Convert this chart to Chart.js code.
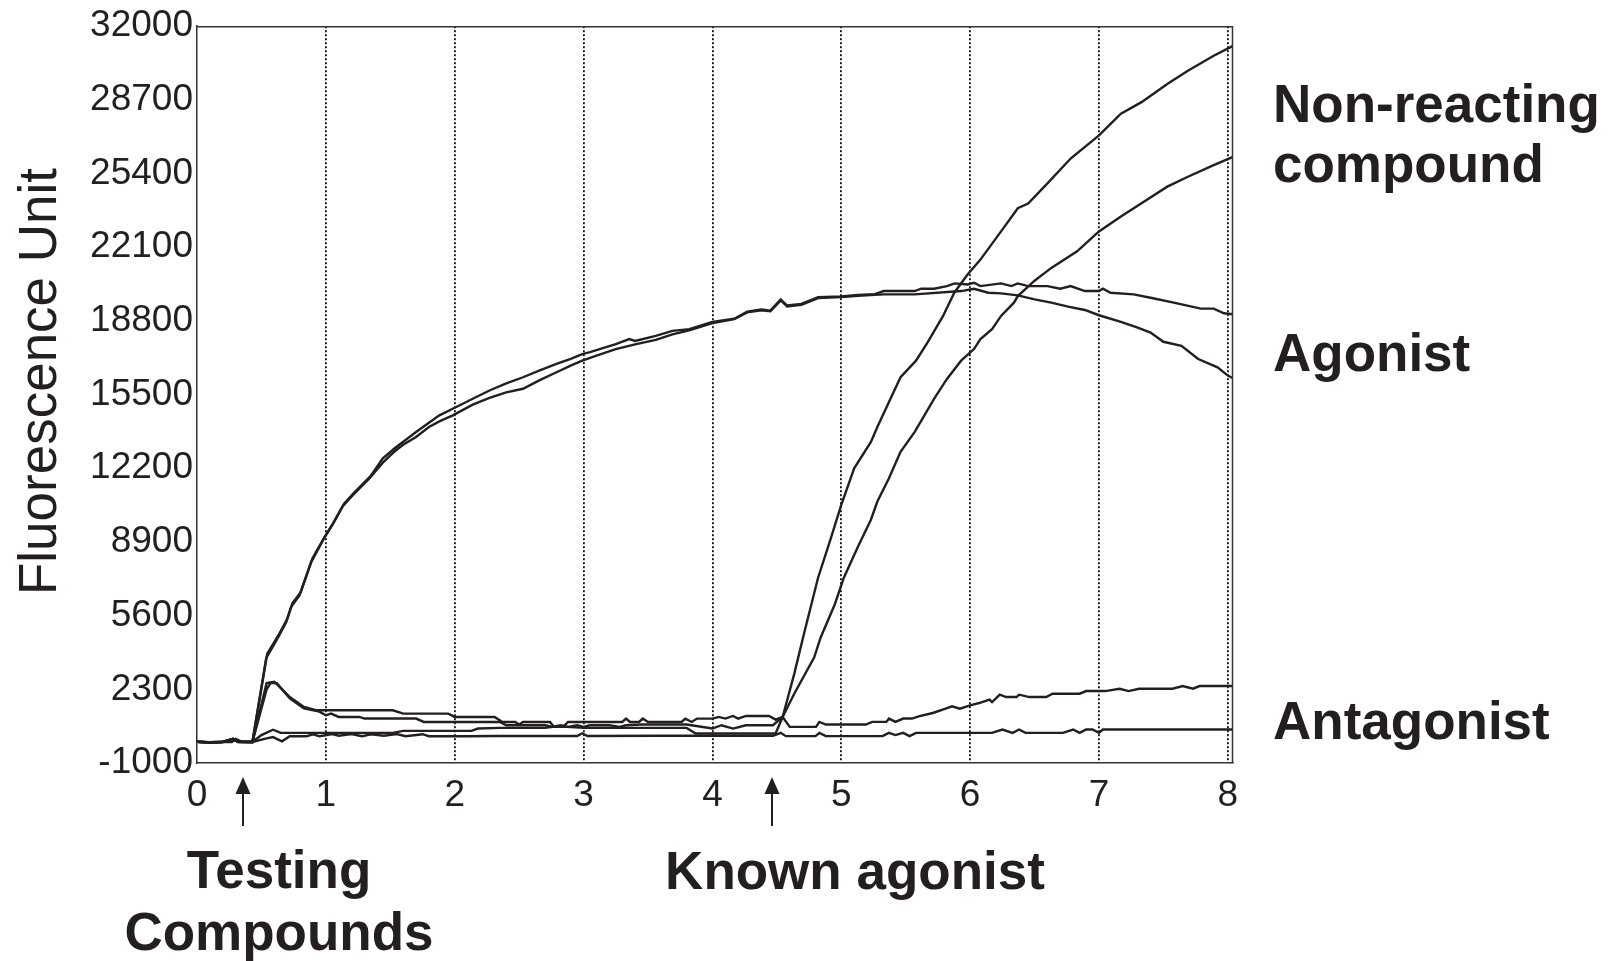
<!DOCTYPE html>
<html>
<head>
<meta charset="utf-8">
<script src="https://cdn.jsdelivr.net/npm/chart.js@4.4.1/dist/chart.umd.min.js"></script>
<style>
html,body{margin:0;padding:0;background:#ffffff;overflow:hidden;}
#wrap{width:1614px;height:961px;position:relative;}
canvas{display:block;}
</style>
</head>
<body>
<div id="wrap"><canvas id="c" width="1614" height="961"></canvas></div>
<script>
// ---------- tick labels ----------
const xTickLabels = ['0','1','2','3','4','5','6','7','8'];
const yTickLabels = ['-1000','2300','5600','8900','12200','15500','18800','22100','25400','28700','32000'];

// ---------- event markers (time of additions) ----------
const markerTimes = [0.36, 4.465];
const markerLabels = [['Testing','Compounds'], ['Known agonist']];

// ---------- curve labels ----------
const curveLabels = [['Non-reacting','compound'], ['Agonist'], ['Antagonist']];
const yTitle = 'Fluorescence Unit';

// ---------- series: agonist (two wells) ----------
const agonistA_t = [0,0.1,0.2,0.28,0.32,0.43,0.537,0.627,0.692,0.731,0.795,0.886,0.924,0.989,1.054,1.131,1.209,1.338,1.442,1.532,1.6,1.7,1.8,1.881,1.985,2.14,2.27,2.4,2.53,2.66,2.79,2.9,2.99,3.1,3.25,3.4,3.56,3.69,3.82,4.0,4.17,4.27,4.38,4.45,4.53,4.58,4.69,4.82,5.0,5.13,5.26,5.33,5.57,5.93,6.03,6.14,6.24,6.37,6.5,6.63,6.76,6.89,7.0,7.17,7.3,7.4,7.5,7.64,7.77,7.92,8.0,8.04];
const agonistA_v = [-50,-80,-60,60,-50,-60,3700,4600,5300,6000,6500,8000,8400,9100,9700,10500,11000,11750,12450,12950,13250,13600,14050,14300,14570,15050,15350,15600,15760,16150,16500,16800,17020,17250,17540,17750,17950,18200,18380,18700,18876,19180,19270,19230,19720,19450,19520,19820,19870,19930,19970,19990,19990,20137,20242,20063,20034,19945,19766,19618,19440,19291,19054,18757,18500,18281,17866,17687,17094,16723,16352,16233];

const agonistB_t = [0,0.1,0.2,0.28,0.32,0.43,0.545,0.635,0.7,0.74,0.805,0.895,0.933,0.998,1.063,1.14,1.218,1.347,1.442,1.532,1.7,1.881,1.985,2.14,2.27,2.4,2.53,2.66,2.79,2.9,2.99,3.05,3.25,3.355,3.4,3.56,3.69,3.82,4.0,4.17,4.27,4.38,4.45,4.53,4.58,4.69,4.82,5.0,5.13,5.26,5.33,5.57,5.62,5.72,5.82,5.88,5.98,6.03,6.08,6.24,6.32,6.37,6.45,6.6,6.7,6.78,6.89,7.0,7.03,7.09,7.27,7.4,7.58,7.79,7.89,7.97,8.04];
const agonistB_v = [-50,-70,-50,80,-60,-60,3900,4750,5450,6150,6650,8150,8550,9200,9800,10600,11100,11850,12641,13086,13828,14570,14867,15313,15684,16000,16277,16580,16871,17100,17317,17400,17762,17985,17900,18133,18356,18430,18750,18900,19220,19310,19260,19760,19490,19560,19860,19900,19960,20000,20137,20137,20242,20242,20360,20480,20434,20509,20360,20480,20360,20480,20360,20360,20242,20360,20137,20137,20242,20063,19989,19840,19618,19351,19351,19143,19098];

// ---------- series: non-reacting compound (two wells) ----------
const nonReactA_t = [0,0.1,0.2,0.28,0.32,0.43,0.54,0.57,0.62,0.72,0.83,0.95,1.0,1.04,1.1,1.26,1.3,1.7,1.76,2.35,2.4,2.7,2.76,2.82,2.88,2.95,3.0,3.05,3.2,3.28,3.33,3.45,3.8,4.0,4.07,4.16,4.26,4.47,4.545,4.635,4.71,4.82,4.92,5.0,5.1,5.23,5.28,5.37,5.46,5.58,5.67,5.79,5.877,5.98,6.08,6.24,6.37,6.45,6.6,6.78,7.0,7.17,7.33,7.53,7.69,7.89,8.04];
const nonReactA_v = [-50,-70,-50,60,-60,-60,2300,2576,2576,1900,1450,1300,1137,1213,1063,1063,990,990,839,839,692,692,617,692,617,692,617,692,692,617,692,721,721,543,692,543,692,692,1063,2993,4774,7297,9078,10563,12196,13383,14051,15164,16277,17020,17836,19023,20063,20880,21547,22809,23848,24060,24961,26074,27113,28078,28598,29414,30008,30676,31121];

const nonReactB_t = [0,0.1,0.2,0.28,0.32,0.43,0.5,0.59,0.65,1.52,1.6,2.13,2.18,2.35,2.7,2.76,2.87,3.0,3.8,3.87,4.49,4.545,4.635,4.79,4.84,4.95,5.02,5.13,5.23,5.28,5.37,5.46,5.57,5.72,5.82,5.93,6.03,6.08,6.17,6.24,6.34,6.37,6.5,6.63,6.83,7.0,7.17,7.33,7.53,7.69,7.89,8.04];
const nonReactB_v = [-50,-80,-60,80,-50,-60,250,490,350,350,439,439,545,573,573,617,617,573,573,321,321,1063,2102,3735,4625,6110,7300,8700,9895,10711,11750,12938,13828,15313,16203,17020,17539,17984,18430,19023,19617,19914,20600,21176,21918,22809,23477,24071,24813,25258,25778,26149];

// ---------- series: antagonist (two wells) ----------
const antagA_t = [0,0.1,0.2,0.28,0.32,0.43,0.54,0.6,0.72,0.83,0.93,1.52,1.6,1.95,2.0,2.31,2.37,2.47,2.5,2.53,2.74,2.77,2.84,2.88,3.3,3.33,3.36,3.43,3.46,3.5,3.76,3.79,3.84,3.88,4.0,4.05,4.1,4.16,4.2,4.26,4.44,4.49,4.545,4.6,4.804,4.83,4.88,5.19,5.24,5.35,5.37,5.42,5.48,5.55,5.6,5.71,5.81,5.86,5.92,6.0,6.07,6.15,6.17,6.23,6.28,6.36,6.38,6.46,6.59,6.64,6.85,6.9,7.05,7.16,7.23,7.31,7.57,7.65,7.73,7.78,8.04];
const antagA_v = [-50,-80,-60,80,-50,-60,2576,2640,1952,1507,1360,1360,1213,1213,1063,1063,839,839,722,839,839,618,618,839,839,989,839,839,989,839,839,989,839,989,989,1063,989,1107,989,1107,1107,944,1063,616,616,840,723,723,841,841,990,841,990,990,1090,1240,1434,1537,1434,1582,1686,1836,1730,2059,1954,1954,2059,1954,1954,2104,2104,2222,2222,2327,2222,2327,2327,2446,2327,2446,2446];

const antagB_t = [0,0.1,0.2,0.27,0.3,0.35,0.43,0.54,0.59,0.66,0.72,0.85,0.9,0.95,1.05,1.1,1.2,1.28,1.35,1.45,1.55,1.62,1.75,1.8,2.1,2.3,2.95,2.99,3.03,3.6,4.47,4.53,4.57,4.8,4.83,4.88,5.32,5.37,5.42,5.48,5.53,5.58,6.17,6.25,6.33,6.38,6.43,6.72,6.8,6.85,6.9,6.95,7.0,7.03,8.04];
const antagB_v = [-50,-80,-60,-60,80,-50,-60,100,160,-30,200,200,280,200,300,220,300,200,280,220,300,200,290,200,200,210,210,330,210,220,220,350,202,202,350,202,202,350,250,350,202,350,350,500,350,500,350,350,500,350,500,500,350,500,500];

// ---------- build chart ----------
function pts(t, v) {
  const n = Math.min(t.length, v.length);
  const out = [];
  for (let i = 0; i < n; i++) out.push({x: t[i], y: v[i]});
  return out;
}
const LINE = '#231f20';
const seriesList = [
  ['Agonist 1', agonistA_t, agonistA_v],
  ['Agonist 2', agonistB_t, agonistB_v],
  ['Non-reacting 1', nonReactA_t, nonReactA_v],
  ['Non-reacting 2', nonReactB_t, nonReactB_v],
  ['Antagonist 1', antagA_t, antagA_v],
  ['Antagonist 2', antagB_t, antagB_v]
];
const datasets = seriesList.map(s => ({
  label: s[0],
  data: pts(s[1], s[2]),
  borderColor: LINE,
  backgroundColor: LINE,
  borderWidth: 2.4,
  pointRadius: 0,
  tension: 0,
  fill: false
}));

const FONT = '"Liberation Sans", Arial, Helvetica, sans-serif';

const decor = {
  id: 'decor',
  afterDraw(chart) {
    const ctx = chart.ctx;
    const a = chart.chartArea;
    const xs = chart.scales.x;
    ctx.save();
    // top and right frame lines
    ctx.strokeStyle = '#333333';
    ctx.lineWidth = 1.5;
    ctx.beginPath();
    ctx.moveTo(a.left, a.top + 0.5);
    ctx.lineTo(a.right - 0.5, a.top + 0.5);
    ctx.lineTo(a.right - 0.5, a.bottom);
    ctx.stroke();

    // arrows for additions
    ctx.fillStyle = LINE;
    ctx.strokeStyle = LINE;
    ctx.lineWidth = 2;
    markerTimes.forEach(t => {
      const px = Math.round(xs.getPixelForValue(t));
      ctx.beginPath();
      ctx.moveTo(px, 790);
      ctx.lineTo(px, 826);
      ctx.stroke();
      ctx.beginPath();
      ctx.moveTo(px, 777);
      ctx.lineTo(px - 7.5, 794);
      ctx.lineTo(px + 7.5, 794);
      ctx.closePath();
      ctx.fill();
    });

    // bottom labels
    ctx.font = 'bold 53px ' + FONT;
    ctx.textAlign = 'center';
    ctx.textBaseline = 'alphabetic';
    ctx.fillText(markerLabels[0][0], 279, 888);
    ctx.fillText(markerLabels[0][1], 279, 950);
    ctx.fillText(markerLabels[1][0], 855, 889);

    // right-hand curve labels
    ctx.textAlign = 'left';
    ctx.fillText(curveLabels[0][0], 1273, 122);
    ctx.fillText(curveLabels[0][1], 1273, 182);
    ctx.fillText(curveLabels[1][0], 1273, 371);
    ctx.fillText(curveLabels[2][0], 1273, 739);

    // y axis title
    ctx.font = '53px ' + FONT;
    ctx.translate(56, 381.5);
    ctx.rotate(-Math.PI / 2);
    ctx.textAlign = 'center';
    ctx.textBaseline = 'alphabetic';
    ctx.fillText(yTitle, 0, 0);
    ctx.restore();
  }
};

new Chart(document.getElementById('c'), {
  type: 'line',
  data: { datasets },
  options: {
    responsive: false,
    animation: false,
    devicePixelRatio: 1,
    layout: { padding: { left: 0, right: 381, top: 22, bottom: 0 } },
    plugins: { legend: { display: false }, tooltip: { enabled: false }, title: { display: false } },
    scales: {
      x: {
        type: 'linear',
        min: 0,
        max: 8.04,
        afterFit: s => { s.height = 198; },
        ticks: {
          stepSize: 1,
          includeBounds: false,
          autoSkip: false,
          maxRotation: 0,
          padding: 11,
          color: LINE,
          font: { family: FONT, size: 37 },
          callback: (v, i) => xTickLabels[i]
        },
        grid: {
          drawTicks: false,
          lineWidth: 1.8,
          color: c => (c.tick && c.tick.value === 0) ? 'rgba(0,0,0,0)' : '#111111'
        },
        border: { display: true, color: '#333333', width: 1.5, dash: [2, 2] }
      },
      y: {
        type: 'linear',
        min: -1000,
        max: 32000,
        afterFit: s => { s.width = 197; },
        ticks: {
          stepSize: 3300,
          autoSkip: false,
          padding: 4,
          color: LINE,
          font: { family: FONT, size: 37 },
          callback: (v, i) => yTickLabels[i]
        },
        grid: { display: false, drawTicks: false },
        border: { display: true, color: '#333333', width: 1.5 }
      }
    }
  },
  plugins: [decor]
});
</script>
</body>
</html>
